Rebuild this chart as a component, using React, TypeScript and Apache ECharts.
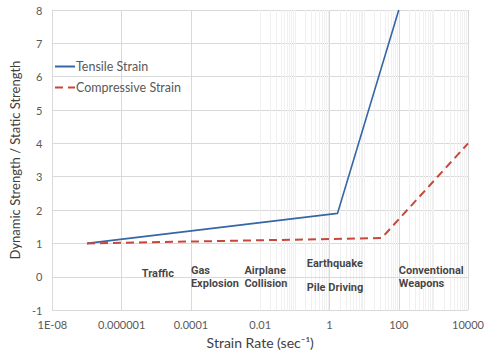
import React, { useEffect, useRef } from "react";
import * as echarts from "echarts";

const xTickLabels = ["1E-08", "0.000001", "0.0001", "0.01", "1", "100", "10000"];
const tensileX = [1e-7, 1.7, 100];
const tensileY = [1.0, 1.9, 8.0];
const compressiveX = [1e-7, 32, 10000];
const compressiveY = [1.0, 1.16, 4.0];
const eventNames = ["Traffic", "Gas\nExplosion", "Airplane\nCollision", "Earthquake", "Pile Driving", "Conventional\nWeapons"];
const eventX = [3.8e-6, 1e-4, 3.5e-3, 0.22, 0.22, 100];
const eventY = [0.1, 0.0, 0.0, 0.39, -0.33, 0.0];

const FONT = "Lato, 'Open Sans', sans-serif";
const BOLD_FONT = "'Liberation Sans Narrow', Roboto, sans-serif";

export default function App() {
  const ref = useRef<HTMLDivElement>(null);
  useEffect(() => {
    if (!ref.current) return;
    const chart = echarts.init(ref.current, undefined, { renderer: "svg" });
    // minor log grid lines (2..9 x 10^n and odd decades)
    const minorLines: any[] = [];
    for (let n = -8; n < 4; n++) {
      for (let k = 1; k <= 9; k++) {
        if (k === 1 && (n + 8) % 2 === 0) continue;
        minorLines.push({ xAxis: k * Math.pow(10, n) });
      }
    }
    chart.setOption({
      animation: false,
      textStyle: { fontFamily: FONT },
      grid: { left: 42, right: 17, top: 10, bottom: 43 },
      legend: {
        data: ["Tensile Strain", "Compressive Strain"],
        orient: "vertical",
        left: 49,
        top: 55,
        itemWidth: 20,
        itemHeight: 10,
        itemGap: 8,
        itemStyle: { opacity: 0 },
        textStyle: { color: "#595959", fontSize: 12.5, fontFamily: FONT, padding: [0, 0, 0, -4] },
      },
      xAxis: {
        type: "log",
        logBase: 100,
        min: 1e-8,
        max: 1e4,
        name: "Strain Rate (sec\u207B\u00B9)",
        nameLocation: "middle",
        nameGap: 23,
        nameTextStyle: { color: "#404040", fontSize: 14, fontFamily: FONT },
        axisLine: { show: true, lineStyle: { color: "#d9d9d9" } },
        axisTick: { show: false },
        axisLabel: {
          color: "#595959",
          fontSize: 11,
          margin: 9,
          formatter: (_v: number, idx: number) => xTickLabels[idx] ?? "",
        },
        splitLine: { show: true, lineStyle: { color: "#d9d9d9", width: 1 } },
      },
      yAxis: {
        type: "value",
        min: -1,
        max: 8,
        interval: 1,
        name: "Dynamic Strength / Static Strength",
        nameLocation: "middle",
        nameGap: 30,
        nameTextStyle: { color: "#404040", fontSize: 13, fontFamily: FONT },
        axisLine: { show: true, lineStyle: { color: "#d9d9d9" } },
        axisTick: { show: false },
        axisLabel: { color: "#595959", fontSize: 11, margin: 10 },
        splitLine: { show: true, lineStyle: { color: "#d9d9d9", width: 1 } },
      },
      series: [
        {
          name: "grid-minor",
          type: "line",
          data: [],
          silent: true,
          z: 0,
          markLine: {
            z: 0,
            silent: true,
            symbol: "none",
            label: { show: false },
            lineStyle: { color: "#f0f0f0", type: "solid", width: 1 },
            data: minorLines,
          },
        },
        {
          name: "Tensile Strain",
          type: "line",
          symbol: "none",
          data: tensileX.map((x, i) => [x, tensileY[i]]),
          lineStyle: { color: "#3566a5", width: 1.6 },
          itemStyle: { color: "#3566a5" },
          z: 10,
        },
        {
          name: "Compressive Strain",
          type: "line",
          symbol: "none",
          data: compressiveX.map((x, i) => [x, compressiveY[i]]),
          lineStyle: { color: "#c8473b", width: 2, type: [8, 5] },
          itemStyle: { color: "#c8473b" },
          z: 10,
        },
        {
          name: "events",
          type: "scatter",
          symbolSize: 0,
          silent: true,
          data: eventNames.map((nm, i) => ({ name: nm, value: [eventX[i], eventY[i]] })),
          label: {
            show: true,
            position: "right",
            distance: 0,
            formatter: (p: any) => p.name,
            color: "#111111",
            fontWeight: "bold",
            fontSize: 11,
            lineHeight: 13,
            fontFamily: BOLD_FONT,
          },
          z: 11,
        },
      ],
    });
    return () => chart.dispose();
  }, []);
  return (
    <div
      ref={ref}
      style={{ position: "fixed", left: 0, top: 0, width: 487, height: 354, background: "#fff" }}
    />
  );
}
